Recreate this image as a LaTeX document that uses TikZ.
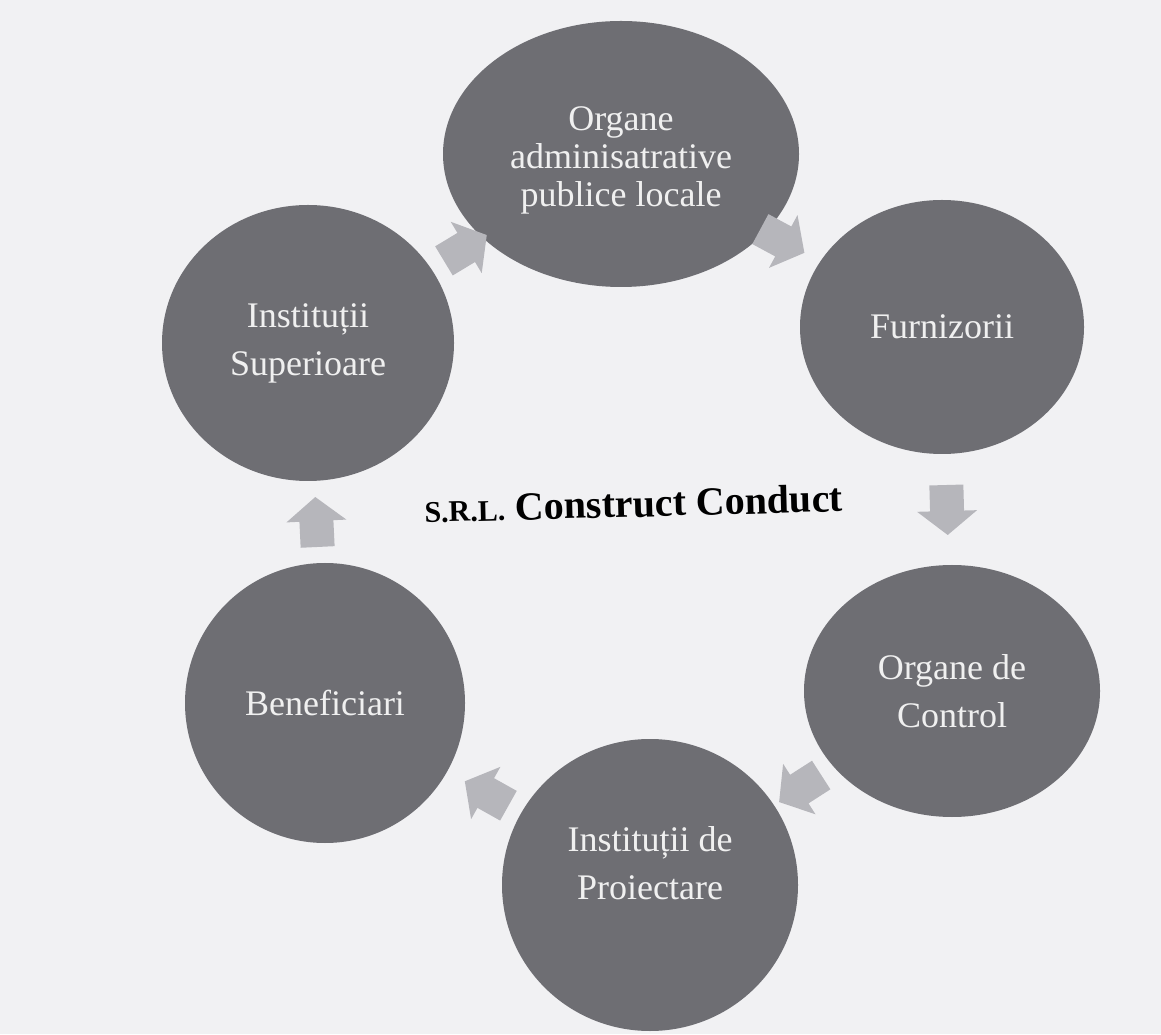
\documentclass[tikz,border=0pt]{standalone}
\usepackage{fontspec}
\setmainfont{Liberation Serif}
\usetikzlibrary{shapes.geometric,calc}
\definecolor{bgc}{HTML}{F1F1F3}
\definecolor{circ}{HTML}{6E6E73}
\definecolor{ctext}{HTML}{F0F0F0}
\definecolor{arr}{HTML}{B6B6BB}
\begin{document}
\begin{tikzpicture}[x=1pt,y=1pt,
  circnode/.style={ellipse, fill=circ, text=ctext, inner sep=0pt, align=center,
    font=\fontsize{36}{48}\selectfont},
  intext/.style={text=ctext, inner sep=0pt, align=center, font=\fontsize{36}{48}\selectfont},
  blockarrow/.pic={\fill[arr] (-24,-17)--(2,-17)--(2,-30)--(26,0)--(2,30)--(2,17)--(-24,17)--cycle;}
]
\fill[bgc] (0,0) rectangle (1161,1034);
\useasboundingbox (0,0) rectangle (1161,1034);
\node[circnode, minimum width=356, minimum height=266] (top) at (621,880) {};
\node[intext, font=\fontsize{36}{38}\selectfont] (toptext) at ([yshift=-6pt]top.center) {Organe\\adminisatrative\\publice locale};
\node[circnode, minimum width=284, minimum height=254] (fur) at (942,707) {Furnizorii};
\node[circnode, minimum width=296, minimum height=252] (ctrl) at (952,343) {Organe de\\Control};
\node[circnode, minimum width=296, minimum height=292] (proi) at (650,149) {};
\node[intext] (proitext) at ([yshift=22pt]proi.center) {Instituții de\\Proiectare};
\node[circnode, minimum width=280, minimum height=280] (ben) at (325,331) {Beneficiari};
\node[circnode, minimum width=292, minimum height=276] (sup) at (308,691) {Instituții\\Superioare};
\node[font=\bfseries, rotate=1.5, anchor=base] (title) at (634,517)
  {{\fontsize{30}{32}\selectfont S.R.L.}{\fontsize{40}{42}\selectfont\ Construct Conduct}};
\foreach \a/\b in {sup/top, top/fur, fur/ctrl, ctrl/proi, proi/ben, ben/sup}
  \path let \p1=($(\b)-(\a)$), \n1={atan2(\y1,\x1)} in ($(\a)!0.5!(\b)$) pic[rotate=\n1] {blockarrow};
\end{tikzpicture}
\end{document}
